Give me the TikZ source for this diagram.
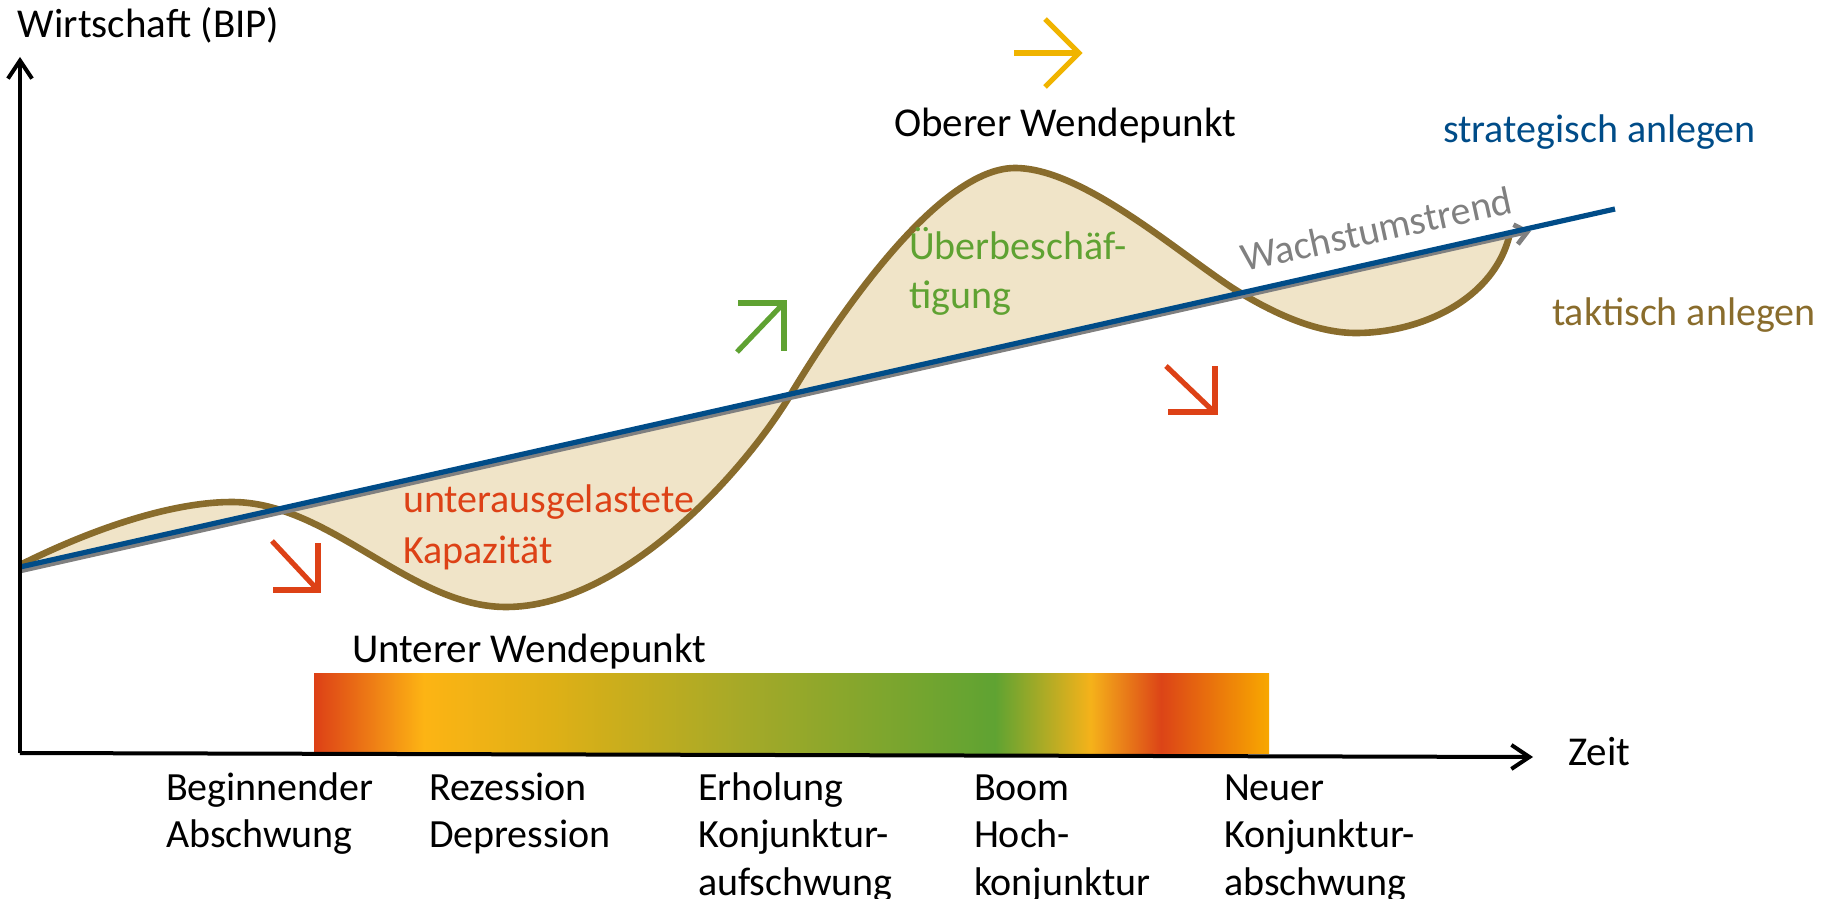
\documentclass[tikz,border=0pt]{standalone}
\usepackage{fontspec}
\setmainfont{Carlito}
\usetikzlibrary{arrows.meta}
\definecolor{brn}{RGB}{137,108,44}
\definecolor{beige}{RGB}{240,228,200}
\definecolor{tblue}{RGB}{0,76,136}
\definecolor{tgray}{RGB}{128,128,128}
\definecolor{tred}{RGB}{221,65,22}
\definecolor{tgreen}{RGB}{95,162,50}
\definecolor{tyellow}{RGB}{240,180,0}
\definecolor{kr0}{RGB}{221,64,22}
\definecolor{kr1}{RGB}{253,180,20}
\definecolor{kr2}{RGB}{222,176,22}
\definecolor{kr3}{RGB}{165,169,40}
\definecolor{kr4}{RGB}{95,163,50}
\definecolor{kr5}{RGB}{245,178,26}
\definecolor{kr6}{RGB}{220,68,23}
\definecolor{kr7}{RGB}{248,168,0}
\pgfdeclarehorizontalshading{konj}{100bp}{color(0bp)=(kr0); color(25bp)=(kr0); color(30.75bp)=(kr1); color(37.5bp)=(kr2); color(47.5bp)=(kr3); color(60.65bp)=(kr4); color(65.65bp)=(kr5); color(69.35bp)=(kr6); color(75bp)=(kr7); color(100bp)=(kr7)}
\newcommand\wavepath{(20,565) .. controls (90,530) and (170,502) .. (232,502) .. controls (330,502) and (410,607) .. (506,607) .. controls (620,607) and (741,477) .. (791,394) .. controls (841,311) and (940,168) .. (1015,168) .. controls (1085,168) and (1185,259) .. (1239,292) .. controls (1280,317) and (1320,333) .. (1356,333) .. controls (1420,333) and (1495,300) .. (1510,233)}
\tikzset{
  lbl/.style={anchor=base west, inner sep=0pt, outer sep=0pt, font=\fontsize{20}{24}\selectfont},
  blbl/.style={lbl, font=\fontsize{20.5}{24}\selectfont},
  axisline/.style={line width=2pt, black, -{Straight Barb[length=9pt,width=12pt]}},
  phasearrow/.style={line width=2.6pt, line join=miter, line cap=butt},
}
\begin{document}
\begin{tikzpicture}[x=0.5pt,y=-0.5pt]
\useasboundingbox (0,0) rectangle (1844,899);
% filled wave area
\fill[beige] \wavepath -- cycle;
\draw[brn, line width=3.3pt] \wavepath;
% trend lines
\coordinate (g0) at (20,571);
\coordinate (g1) at (1531,231);
\draw[tgray, line width=2.4pt, -{Straight Barb[length=6pt,width=10pt]}] (g0) -- (g1);
\coordinate (b0) at (20,567);
\coordinate (b1) at (1615,209);
\draw[tblue, line width=2.6pt] (b0) -- (b1);
% gradient bar
\shade[shading=konj] (314,673) rectangle (1269,753);
% axes
\coordinate (O) at (20,753);
\coordinate (ytip) at (20,57);
\coordinate (xtip) at (1533,757);
\draw[axisline] (O) -- (ytip);
\draw[axisline] (O) -- (xtip);
% phase arrows
\draw[phasearrow, tred] (272,541) -- (315,587);
\draw[phasearrow, tred] (318,543) -- (318,590) -- (273,590);
\draw[phasearrow, tgreen] (737,352) -- (782,305);
\draw[phasearrow, tgreen] (738,303) -- (784,303) -- (784,351);
\draw[phasearrow, tred] (1166,366) -- (1212,410);
\draw[phasearrow, tred] (1215,366) -- (1215,412) -- (1168,412);
\draw[phasearrow, tyellow] (1014,53) -- (1078,53);
\draw[phasearrow, tyellow] (1045,19) -- (1079,53) -- (1045,87);
% labels
\node[blbl] (ylab) at (18,38) {Wirtschaft (BIP)};
\node[blbl] (owp) at (894,137) {Oberer Wendepunkt};
\node[lbl, text=tblue] (strat) at (1443,143) {strategisch anlegen};
\node[lbl, text=brn] (takt) at (1552,325) {taktisch anlegen};
\node[lbl, text=tgreen] (ueb1) at (909,259) {Überbeschäf-};
\node[lbl, text=tgreen] (ueb2) at (909,308) {tigung};
\node[lbl, text=tred] (unt1) at (403,512) {unterausgelastete};
\node[lbl, text=tred] (unt2) at (403,563) {Kapazität};
\node[lbl, text=tgray, rotate=12.3] (wachs) at (1244,272) {Wachstumstrend};
\node[blbl] (uwp) at (352,662) {Unterer Wendepunkt};
\node[blbl] (zeit) at (1568,765) {Zeit};
\node[lbl] (p1a) at (166,800) {Beginnender};
\node[lbl] (p1b) at (166,847) {Abschwung};
\node[lbl] (p2a) at (429,800) {Rezession};
\node[lbl] (p2b) at (429,847) {Depression};
\node[lbl] (p3a) at (698,800) {Erholung};
\node[lbl] (p3b) at (698,847) {Konjunktur-};
\node[lbl] (p3c) at (698,895) {aufschwung};
\node[lbl] (p4a) at (974,800) {Boom};
\node[lbl] (p4b) at (974,847) {Hoch-};
\node[lbl] (p4c) at (974,895) {konjunktur};
\node[lbl] (p5a) at (1224,800) {Neuer};
\node[lbl] (p5b) at (1224,847) {Konjunktur-};
\node[lbl] (p5c) at (1224,895) {abschwung};
\end{tikzpicture}
\end{document}
